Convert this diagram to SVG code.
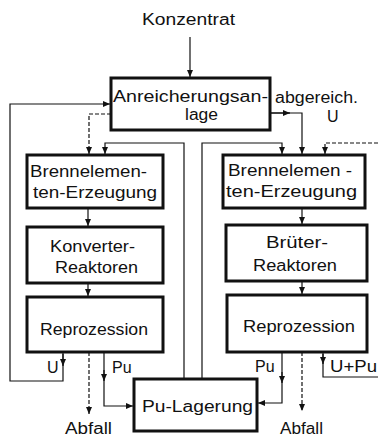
<svg xmlns="http://www.w3.org/2000/svg" width="378" height="437" viewBox="0 0 378 437">
  <defs>
    <marker id="ah" markerUnits="userSpaceOnUse" markerWidth="8" markerHeight="7" refX="7" refY="3.5" orient="auto">
      <path d="M0,0.5 L7,3.5 L0,6.5 z" fill="#111"/>
    </marker>
    <style>
      .box { fill: #fff; stroke: #111; stroke-width: 3; }
      .ln { fill: none; stroke: #111; stroke-width: 1.2; }
      .dash { stroke-dasharray: 4 2; }
      .arr { marker-end: url(#ah); }
      text { font-family: "Liberation Sans", Arial, sans-serif; font-size: 16px; fill: #111; }
      .c { text-anchor: middle; }
    </style>
  </defs>
  <rect width="378" height="437" fill="#fff"/>

  <!-- connectors -->
  <g id="connectors">
    <path class="ln arr" d="M190,37 V77"/>
    <!-- U return to enrichment plant -->
    <path class="ln arr" d="M63,352 V381 H10 V104 H110"/>
    <path class="ln arr" d="M63,354 V366"/>
    <path class="ln dash arr" d="M111,114 H89 V154"/>
    <!-- Pu store to fuel element fabrication -->
    <path class="ln arr" d="M184,379 V143 H105 V154"/>
    <path class="ln arr" d="M202,379 V143 H282 V154"/>
    <!-- depleted U -->
    <path class="ln arr" d="M270,113 H290"/>
    <path class="ln arr" d="M270,113 H302 V154"/>
    <!-- U+Pu return -->
    <path class="ln" d="M323,352 V377 H378"/>
    <path class="ln arr" d="M323,354 V364"/>
    <path class="ln dash arr" d="M378,143 H325 V154"/>
    <!-- chains -->
    <path class="ln arr" d="M88,208 V226"/>
    <path class="ln arr" d="M88,283 V296"/>
    <path class="ln arr" d="M302,208 V224"/>
    <path class="ln arr" d="M302,281 V294"/>
    <!-- outputs of reprocessing -->
    <path class="ln dash arr" d="M89,352 V414"/>
    <path class="ln arr" d="M104,352 V406 H133"/>
    <path class="ln arr" d="M104,370 V381"/>
    <path class="ln arr" d="M282,352 V403 H258"/>
    <path class="ln arr" d="M282,372 V383"/>
    <path class="ln dash arr" d="M302,352 V411"/>
  </g>

  <!-- free labels -->
  <g id="labels">
    <text x="142" y="25" textLength="93" lengthAdjust="spacingAndGlyphs">Konzentrat</text>
    <text x="275" y="103" textLength="83" lengthAdjust="spacingAndGlyphs">abgereich.</text>
    <text x="327" y="122">U</text>
    <text x="47" y="373">U</text>
    <text x="112" y="373">Pu</text>
    <text x="255" y="372">Pu</text>
    <text x="330" y="372" textLength="47" lengthAdjust="spacingAndGlyphs">U+Pu</text>
    <text x="65" y="434" textLength="47" lengthAdjust="spacingAndGlyphs">Abfall</text>
    <text x="280" y="434" textLength="43" lengthAdjust="spacingAndGlyphs">Abfall</text>
  </g>

  <g id="anreicherung">
    <rect class="box" x="111" y="78" width="159" height="52"/>
    <text x="113" y="102" textLength="155" lengthAdjust="spacingAndGlyphs">Anreicherungsan-</text>
    <text x="185" y="120" textLength="33" lengthAdjust="spacingAndGlyphs">lage</text>
  </g>

  <g id="brennelemente-links">
    <rect class="box" x="27" y="155" width="136" height="53"/>
    <text x="30" y="177" textLength="117" lengthAdjust="spacingAndGlyphs">Brennelemen-</text>
    <text x="33" y="198" textLength="124" lengthAdjust="spacingAndGlyphs">ten-Erzeugung</text>
  </g>

  <g id="konverter">
    <rect class="box" x="27" y="227" width="136" height="56"/>
    <text x="50" y="252" textLength="85" lengthAdjust="spacingAndGlyphs">Konverter-</text>
    <text x="55" y="273" textLength="83" lengthAdjust="spacingAndGlyphs">Reaktoren</text>
  </g>

  <g id="reprozession-links">
    <rect class="box" x="27" y="297" width="136" height="55"/>
    <text x="40" y="335" textLength="108" lengthAdjust="spacingAndGlyphs">Reprozession</text>
  </g>

  <g id="brennelemente-rechts">
    <rect class="box" x="223" y="155" width="142" height="53"/>
    <text x="228" y="176" textLength="124" lengthAdjust="spacingAndGlyphs">Brennelemen -</text>
    <text x="226" y="197" textLength="131" lengthAdjust="spacingAndGlyphs">ten-Erzeugung</text>
  </g>

  <g id="brueter">
    <rect class="box" x="226" y="225" width="141" height="56"/>
    <text x="266" y="248" textLength="62" lengthAdjust="spacingAndGlyphs">Brüter-</text>
    <text x="253" y="271" textLength="84" lengthAdjust="spacingAndGlyphs">Reaktoren</text>
  </g>

  <g id="reprozession-rechts">
    <rect class="box" x="227" y="295" width="140" height="57"/>
    <text x="243" y="332" textLength="112" lengthAdjust="spacingAndGlyphs">Reprozession</text>
  </g>

  <g id="pu-lagerung">
    <rect class="box" x="134" y="379" width="123" height="52"/>
    <text x="142" y="412" textLength="111" lengthAdjust="spacingAndGlyphs">Pu-Lagerung</text>
  </g>
</svg>
